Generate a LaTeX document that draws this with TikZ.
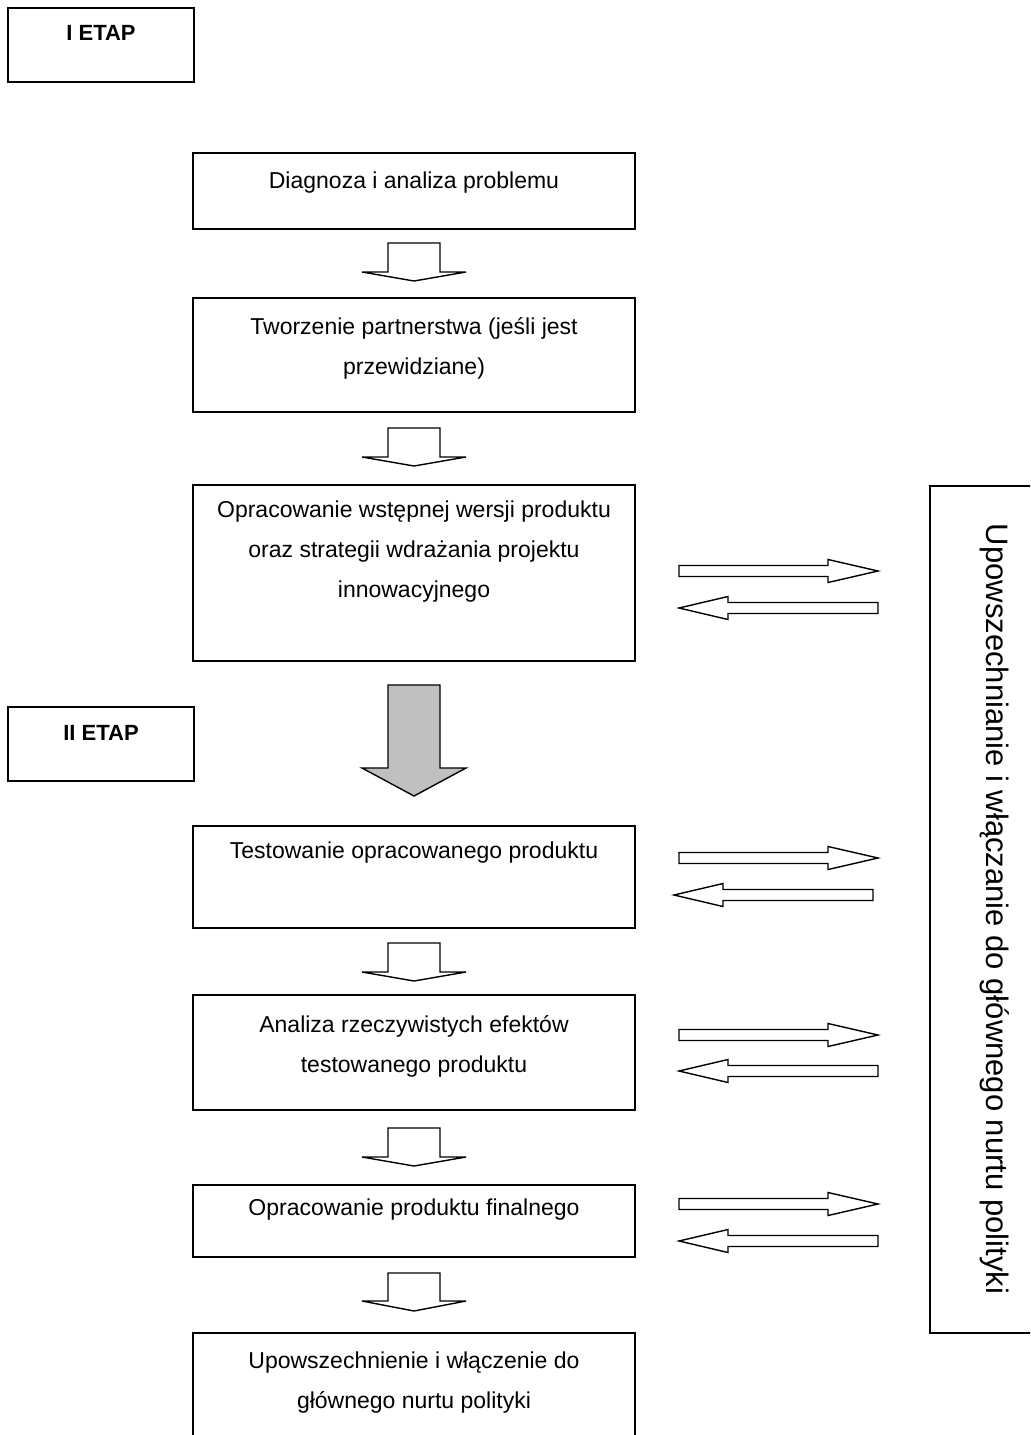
\documentclass[tikz,border=0pt]{standalone}
\usepackage{fontspec}
\setmainfont{Liberation Sans}
\usetikzlibrary{positioning}

\definecolor{szary}{RGB}{192,192,192}

\tikzset{
  pole/.style={draw, line width=1pt, minimum width=221pt, inner sep=0pt},
  etap/.style={draw, line width=1pt, minimum width=93pt, minimum height=37pt, inner sep=0pt},
  tekst/.style={align=center, font=\fontsize{11.5}{20}\selectfont},
  blok/.style={draw, line width=0.7pt, line join=miter, fill=white}
}

% strzalka w dol: x srodka, gora, poczatek grotu, czubek
\newcommand{\wdol}[5][white]{%
  \draw[blok, fill=#1] (#2-26,#3) -- (#2+26,#3) -- (#2+26,#4) -- (#2+52,#4)
    -- (#2,#5) -- (#2-52,#4) -- (#2-26,#4) -- cycle;}
% strzalka w prawo: y srodka
\newcommand{\wprawo}[1]{%
  \draw[blok] (679,#1-5.5) -- (828,#1-5.5) -- (828,#1-11.5) -- (878,#1)
    -- (828,#1+11.5) -- (828,#1+5.5) -- (679,#1+5.5) -- cycle;}
% strzalka w lewo: y srodka, czubek, koniec
\newcommand{\wlewo}[3]{%
  \draw[blok] (#3,#1-5.5) -- (#2+49,#1-5.5) -- (#2+49,#1-11.5) -- (#2,#1)
    -- (#2+49,#1+11.5) -- (#2+49,#1+5.5) -- (#3,#1+5.5) -- cycle;}

\begin{document}
\begin{tikzpicture}[x=0.5pt, y=-0.5pt]

  \useasboundingbox (0,0) rectangle (1030,1435);
  \clip (0,0) rectangle (1030,1435);

  % etapy
  \node[etap] (etap1) at (101,45) {};
  \node[font=\fontsize{11}{13}\bfseries\selectfont] (etap1t) at (101,33) {I ETAP};
  \node[etap] (etap2) at (101,743.5) {};
  \node[font=\fontsize{11}{13}\bfseries\selectfont] (etap2t) at (101,733) {II ETAP};

  % pola schematu
  \node[pole, minimum height=38pt] (diag) at (414,191) {};
  \node[tekst] (diagt) at (414,183) {Diagnoza i analiza problemu};

  \node[pole, minimum height=57pt] (partn) at (414,355) {};
  \node[tekst] (partnt) at (414,348) {Tworzenie partnerstwa (jeśli jest\\przewidziane)};

  \node[pole, minimum height=88pt] (wstep) at (414,573) {};
  \node[tekst] (wstept) at (414,552) {Opracowanie wstępnej wersji produktu\\oraz strategii wdrażania projektu\\innowacyjnego};

  \node[pole, minimum height=51pt] (test) at (414,877) {};
  \node[tekst] (testt) at (414,853) {Testowanie opracowanego produktu};

  \node[pole, minimum height=57.5pt] (anal) at (414,1052.5) {};
  \node[tekst] (analt) at (414,1046.5) {Analiza rzeczywistych efektów\\testowanego produktu};

  \node[pole, minimum height=36pt] (final) at (414,1221) {};
  \node[tekst] (finalt) at (414,1210) {Opracowanie produktu finalnego};

  \node[pole, minimum height=63.5pt] (upow) at (414,1396.5) {};
  \node[tekst] (upowt) at (414,1382.5) {Upowszechnienie i włączenie do\\głównego nurtu polityki};

  % strzalki w dol
  \wdol{414}{243}{272}{281}
  \wdol{414}{428}{457}{466}
  \wdol[szary]{414}{685}{768}{796}
  \wdol{414}{943}{972}{981}
  \wdol{414}{1128}{1157}{1166}
  \wdol{414}{1273}{1301}{1311}

  % pole boczne
  \node[draw, line width=1pt, minimum width=55pt, minimum height=423.5pt, inner sep=0pt] (bok) at (985,909.5) {};
  \node[rotate=-90, font=\fontsize{15.5}{18}\selectfont] (bokt) at (995,909) {Upowszechnianie i włączanie do głównego nurtu polityki};

  % strzalki w obie strony
  \wprawo{571}
  \wlewo{608}{679}{878}
  \wprawo{858}
  \wlewo{895}{674}{873}
  \wprawo{1035}
  \wlewo{1071}{679}{878}
  \wprawo{1204}
  \wlewo{1241}{679}{878}

\end{tikzpicture}
\end{document}
